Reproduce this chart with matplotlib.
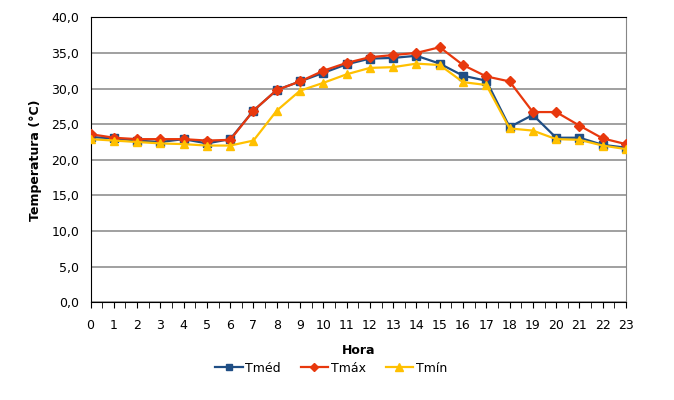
import numpy as np
import matplotlib
matplotlib.use('Agg')
import matplotlib.pyplot as plt
from matplotlib.ticker import FuncFormatter, MultipleLocator

# ---- data ----
hours = list(range(24))
t_med = [23.2, 23.0, 22.7, 22.5, 22.9, 22.3, 22.9, 26.9, 29.8, 31.0, 32.2, 33.4,
         34.2, 34.3, 34.6, 33.5, 31.8, 31.1, 24.6, 26.3, 23.1, 23.1, 22.1, 21.7]
t_max = [23.6, 23.1, 22.9, 22.9, 22.9, 22.7, 22.8, 26.9, 29.8, 31.0, 32.5, 33.6,
         34.4, 34.7, 35.0, 35.8, 33.3, 31.7, 31.0, 26.7, 26.7, 24.8, 23.0, 22.2]
t_min = [22.9, 22.7, 22.5, 22.3, 22.2, 22.0, 22.0, 22.7, 26.9, 29.7, 30.8, 32.0,
         32.9, 33.0, 33.5, 33.3, 30.9, 30.5, 24.4, 24.1, 22.9, 22.8, 22.0, 21.5]

c_med = '#1F4E85'
c_max = '#E8380D'
c_min = '#FFC000'

plt.rcParams['font.family'] = ['DejaVu Sans']
plt.rcParams['font.size'] = 9

fig = plt.figure(figsize=(6.74, 4.0), dpi=100)
ax = fig.add_axes([90.5/674, 1 - 302.3/400, (626 - 90.5)/674, (302.3 - 17.3)/400])

ax.plot(hours, t_med, color=c_med, lw=1.6, marker='s', ms=5.5, label='Tméd', zorder=3)
ax.plot(hours, t_max, color=c_max, lw=1.6, marker='D', ms=5, label='Tmáx', zorder=4)
ax.plot(hours, t_min, color=c_min, lw=1.6, marker='^', ms=6, label='Tmín', zorder=5)

ax.set_xlim(0, 23)
ax.set_ylim(0, 40)
ax.set_xticks(hours)
ax.xaxis.set_minor_locator(MultipleLocator(0.5))
ax.yaxis.set_major_locator(MultipleLocator(5))
ax.yaxis.set_major_formatter(FuncFormatter(lambda v, p: f'{v:.1f}'.replace('.', ',')))
ax.grid(axis='y', color='#868686', lw=1.1)
ax.set_axisbelow(True)

ax.tick_params(axis='y', length=0, pad=8)
ax.tick_params(axis='x', which='both', direction='out', length=4, color='black', pad=8)

ax.spines['left'].set_color('black')
ax.spines['bottom'].set_color('black')
ax.spines['top'].set_color('black')
ax.spines['right'].set_color('#868686')

ax.set_ylabel('Temperatura (°C)', fontweight='bold', labelpad=7)
ax.set_xlabel('Hora', fontweight='bold', labelpad=9)

fig.legend(loc='center', bbox_to_anchor=(331/674, 1 - 368/400), ncol=3, frameon=False,
           handlelength=2.2, columnspacing=1.6, handletextpad=0.2, markerscale=0.9)

fig.savefig('out.png', dpi=100)
